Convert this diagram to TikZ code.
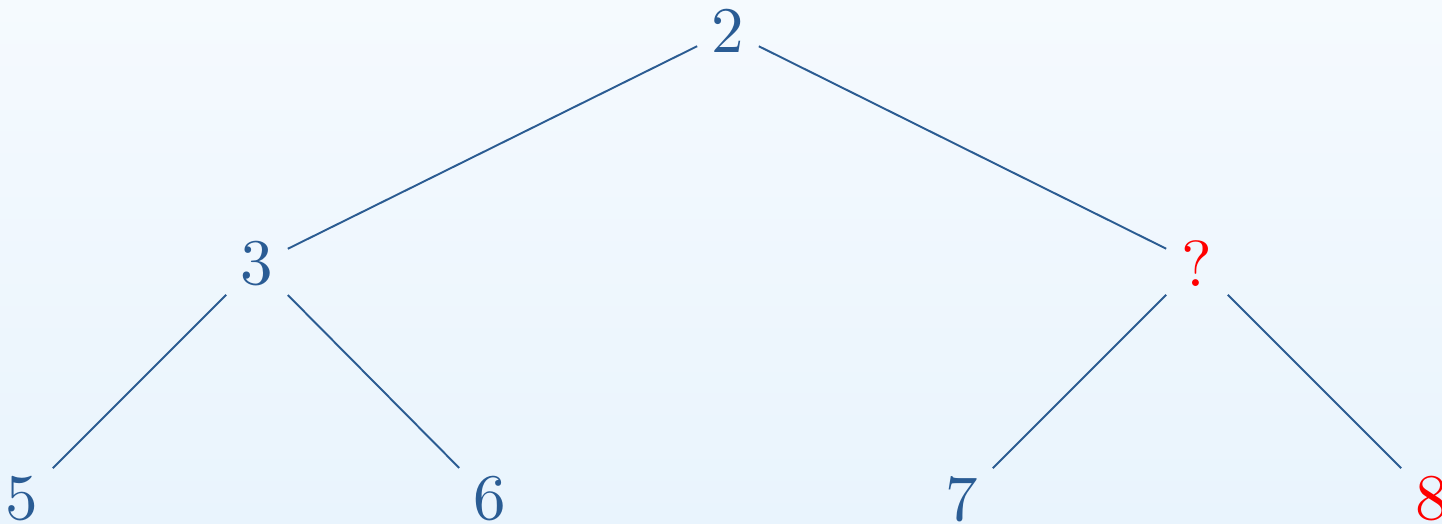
\documentclass[tikz,border=0pt]{standalone}
\usepackage{fontspec}
\newfontfamily\digitfont{lmroman10-regular.otf}
\definecolor{nodeblue}{HTML}{2A5C94}
\definecolor{edgeblue}{HTML}{2B5C92}
\definecolor{bgtop}{HTML}{F5FAFE}
\definecolor{bgbot}{HTML}{E9F4FD}
\definecolor{qred}{HTML}{FF0000}
\begin{document}
\begin{tikzpicture}[
  tn/.style={rectangle, inner sep=0pt, minimum width=1.22cm, minimum height=1.28cm,
             text=nodeblue, font=\digitfont\fontsize{37}{44}\selectfont},
  hl/.style={text=qred},
  edge/.style={draw=edgeblue, line width=1.1pt}
]
\path[clip] (0,0) rectangle (28.84,10.48);
\shade[top color=bgtop, bottom color=bgbot] (0,0) rectangle (28.84,10.48);
\node[tn] (n2) at (14.56,9.86) {2};
\node[tn] (n3) at (5.14,5.2) {3};
\node[tn,hl] (nq) at (23.94,5.2) {?};
\node[tn] (n5) at (0.44,0.5) {5};
\node[tn] (n6) at (9.80,0.5) {6};
\node[tn] (n7) at (19.24,0.5) {7};
\node[tn,hl] (n8) at (28.64,0.5) {8};
\draw[edge] (n2) -- (n3);
\draw[edge] (n2) -- (nq);
\draw[edge] (n3) -- (n5);
\draw[edge] (n3) -- (n6);
\draw[edge] (nq) -- (n7);
\draw[edge] (nq) -- (n8);
\end{tikzpicture}
\end{document}
